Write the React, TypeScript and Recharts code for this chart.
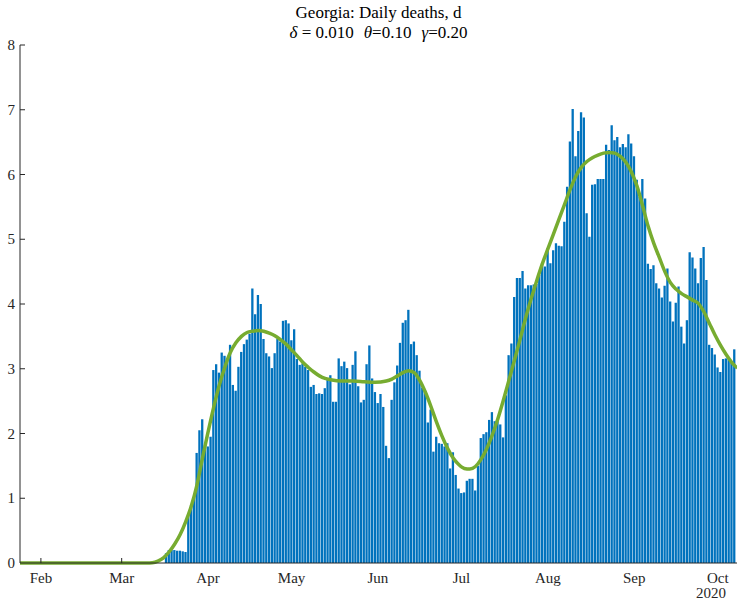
import React from "react";
import { ComposedChart, Bar, Line, XAxis, YAxis } from "recharts";

// Day numbers are counted from 1 Feb 2020 (day 0).
const FIRST_DAY = "2020-02-01";
const barStartDate = "2020-03-17";

// Daily deaths, one value per day starting at barStartDate
const dailyDeaths = [
  0.15, 0.2, 0.2, 0.2, 0.19, 0.19, 0.18, 0.17,
  0.75, 0.9, 1.0, 1.7, 2.05, 2.22, 1.82, 1.8, 1.95, 2.98, 3.07, 2.94, 3.25, 3.2, 3.13, 3.37,
  2.75, 2.66, 3.03, 3.26, 3.38, 3.45, 3.54, 4.24, 3.84, 4.14, 4.0,
  3.46, 3.24, 3.19, 3.01, 3.24, 3.46, 3.42, 3.74, 3.75, 3.7, 3.44, 3.61, 3.15, 3.06, 3.08,
  3.03, 2.98, 2.72, 2.75, 2.61, 2.62, 2.61, 2.7, 2.83, 2.9, 2.49, 2.49, 3.16, 3.04, 3.11,
  3.01, 2.76, 3.06,
  3.27, 2.73, 2.48, 2.52, 3.07, 3.36, 2.85, 2.64, 2.47, 2.61, 2.41, 1.81, 1.62, 2.52, 2.79,
  3.05, 3.4, 3.71, 3.75, 3.91,
  3.38, 3.42, 3.21, 2.97, 2.71, 2.66, 2.17, 2.37, 1.72, 1.95, 1.85, 1.84, 1.8, 1.85, 1.46,
  1.71, 1.36, 1.15, 1.08, 1.09, 1.27, 1.3, 1.3, 1.12, 1.5, 1.93, 1.99, 2.02, 2.21, 2.33,
  2.19, 2.19, 2.14, 1.94, 2.59, 3.21, 3.39, 4.11, 4.4, 4.4, 4.51,
  4.24, 4.29, 4.29, 4.3, 4.31, 4.45, 4.63, 4.58, 4.86, 4.63, 4.83, 4.94, 4.9, 4.89, 5.27,
  5.81, 6.51, 7.01, 6.28, 6.67, 6.96, 6.88, 5.4, 5.04, 5.84, 5.85, 5.93, 5.93, 5.93, 6.46,
  6.38, 6.76, 6.53, 6.58, 6.42, 6.47, 6.42, 6.62, 6.48, 6.28, 5.92, 5.66, 5.93, 5.63, 4.62,
  4.54, 4.6, 4.32, 4.24, 4.1, 4.28, 4.55, 4.04, 3.73, 4.02, 4.27, 3.65, 3.39, 3.75, 4.8,
  4.72, 4.55, 4.32, 4.71, 4.88, 4.37, 3.37, 3.32, 3.22, 3.02, 2.95, 3.15, 3.16, 3.15, 3.1,
  3.3,
];

// Model fit (green curve), read at these days (since 1 Feb 2020)
const fitDays = [
  -8, 0, 10, 20, 30, 38, 40, 42, 44, 46, 48, 50, 52, 54, 56, 58, 60, 62, 64, 66, 68, 70,
  72, 74, 76, 78, 80, 82, 84, 86, 88, 90, 92, 94, 96, 98, 100, 102, 104, 108, 112, 116, 120,
  124, 126, 128, 130, 132, 134, 136, 138, 140, 142, 144, 146, 148, 150, 152, 154, 156, 158,
  160, 162, 164, 166, 168, 170, 172, 174, 176, 178, 180, 182, 184, 186, 188, 190, 192, 194,
  196, 198, 200, 202, 204, 206, 208, 210, 212, 214, 216, 218, 220, 222, 224, 226, 228, 230,
  232, 234, 236, 238, 240, 242, 244, 246, 248, 250,
];
const fitValues = [
  0, 0, 0, 0, 0, 0, 0.005, 0.03, 0.08, 0.17, 0.29, 0.44, 0.64, 0.88, 1.2, 1.62, 2.02, 2.4,
  2.74, 3.02, 3.25, 3.4, 3.5, 3.56, 3.58, 3.59, 3.58, 3.55, 3.51, 3.45, 3.38, 3.29, 3.2, 3.1,
  3.02, 2.95, 2.89, 2.85, 2.83, 2.81, 2.81, 2.8, 2.79, 2.81, 2.84, 2.89, 2.94, 2.97, 2.94,
  2.82, 2.64, 2.42, 2.18, 1.96, 1.77, 1.62, 1.52, 1.46, 1.45, 1.49, 1.6, 1.76, 1.97, 2.22,
  2.51, 2.82, 3.13, 3.45, 3.78, 4.08, 4.36, 4.62, 4.85, 5.08, 5.31, 5.54, 5.77, 5.97, 6.11,
  6.2, 6.26, 6.3, 6.33, 6.34, 6.33, 6.28, 6.19, 6.04, 5.82, 5.52, 5.2, 4.94, 4.72, 4.5, 4.33,
  4.23, 4.16, 4.11, 4.06, 4.01, 3.88, 3.7, 3.52, 3.36, 3.22, 3.1, 3.01,
];

const monthStartDates = [
  "2020-02-01", "2020-03-01", "2020-04-01", "2020-05-01", "2020-06-01",
  "2020-07-01", "2020-08-01", "2020-09-01", "2020-10-01",
];
const monthLabels = ["Feb", "Mar", "Apr", "May", "Jun", "Jul", "Aug", "Sep", "Oct"];
const yTicks = [0, 1, 2, 3, 4, 5, 6, 7, 8];
const yearLabel = "2020";
const titleLine1 = "Georgia: Daily deaths, d";

const dayOf = (s: string) =>
  Math.round((Date.parse(s) - Date.parse(FIRST_DAY)) / 86400000);
const barStartDay = dayOf(barStartDate);
const monthDays = monthStartDates.map(dayOf);

const rowsByDay = new Map<number, any>();
const getRow = (d: number) => {
  if (!rowsByDay.has(d)) rowsByDay.set(d, { day: d });
  return rowsByDay.get(d);
};
dailyDeaths.forEach((v, i) => {
  getRow(barStartDay + i).deaths = v;
});
fitDays.forEach((d, i) => {
  getRow(d).fit = fitValues[i];
});
const chartData = Array.from(rowsByDay.values()).sort((a, b) => a.day - b.day);

const AXIS = "#262626";
const FONT = "'Liberation Serif', 'Times New Roman', Times, serif";
const FS = 15;

const XTick = (props: any) => {
  const { x, y, payload } = props;
  const idx = monthDays.indexOf(payload.value);
  const row = rowsByDay.get(payload.value);
  const hiddenUnderBar = row && row.deaths != null;
  return (
    <g>
      {!hiddenUnderBar && (
        <line x1={x} x2={x} y1={y} y2={y - 5} stroke={AXIS} strokeWidth={1} />
      )}
      <text x={x} y={y + 20} textAnchor="middle" fontFamily={FONT} fontSize={FS} fill={AXIS}>
        {monthLabels[idx]}
      </text>
    </g>
  );
};

const YTick = (props: any) => {
  const { x, y, payload } = props;
  return (
    <g>
      {payload.value !== 0 && (
        <line x1={x} x2={x + 5} y1={y} y2={y} stroke={AXIS} strokeWidth={1} />
      )}
      <text x={x - 5} y={y + 5} textAnchor="end" fontFamily={FONT} fontSize={FS} fill={AXIS}>
        {payload.value}
      </text>
    </g>
  );
};

const Gap = () => <span style={{ display: "inline-block", width: 10 }} />;

export default function App() {
  return (
    <div
      style={{
        position: "absolute",
        left: 0,
        top: 0,
        width: 737,
        height: 601,
        background: "#fff",
        overflow: "hidden",
      }}
    >
      <ComposedChart
        width={737}
        height={601}
        data={chartData}
        margin={{ top: 45, right: 0, bottom: 0, left: 0 }}
      >
        <XAxis
          dataKey="day"
          type="number"
          domain={[-7.5, 249.9]}
          allowDataOverflow
          ticks={monthDays}
          interval={0}
          height={38}
          tickSize={0}
          tickMargin={0}
          tickLine={false}
          axisLine={{ stroke: AXIS, strokeWidth: 1 }}
          tick={<XTick />}
        />
        <YAxis
          type="number"
          domain={[0, 8]}
          ticks={yTicks}
          interval={0}
          width={20}
          tickSize={0}
          tickMargin={0}
          tickLine={false}
          axisLine={{ stroke: AXIS, strokeWidth: 1 }}
          tick={<YTick />}
        />
        <Bar dataKey="deaths" fill="#0072BD" barSize={2.3} isAnimationActive={false} />
        <Line
          dataKey="fit"
          type="monotone"
          stroke="#77AC30"
          strokeWidth={3.5}
          dot={false}
          activeDot={false}
          connectNulls
          isAnimationActive={false}
        />
      </ComposedChart>
      <div
        style={{
          position: "absolute",
          left: 20,
          width: 717,
          top: 3,
          textAlign: "center",
          fontFamily: FONT,
          fontSize: 17,
          lineHeight: "20px",
          color: "#000",
          whiteSpace: "pre",
        }}
      >
        <div>{titleLine1}</div>
        <div>
          <i>δ</i>
          {" = 0.010"}
          <Gap />
          <i>θ</i>
          {"=0.10"}
          <Gap />
          <i>γ</i>
          {"=0.20"}
        </div>
      </div>
      <div
        style={{
          position: "absolute",
          left: 690,
          width: 42,
          top: 585,
          textAlign: "center",
          fontFamily: FONT,
          fontSize: FS,
          lineHeight: "17px",
          color: AXIS,
        }}
      >
        {yearLabel}
      </div>
    </div>
  );
}
